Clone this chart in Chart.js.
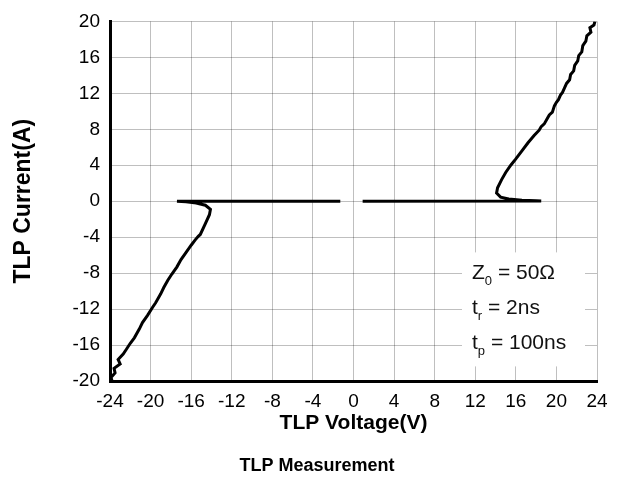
<!DOCTYPE html>
<html>
<head>
<meta charset="utf-8">
<script src="https://cdn.jsdelivr.net/npm/chart.js@4.4.1/dist/chart.umd.min.js"></script>
<style>
  html, body { margin: 0; padding: 0; background: #fff; }
  #wrap { width: 627px; height: 482px; }
</style>
</head>
<body>
<div id="wrap"><canvas id="tlp" width="627" height="482"></canvas></div>
<script>
// data (V, A)
const posVolt = [0.9, 18.5, 18.0, 16.6, 15.3, 14.5, 14.1, 14.2, 14.6, 15.0, 15.5, 16.0, 16.6, 17.2, 17.8, 18.3, 18.5, 18.8, 19.1, 19.3, 19.6, 19.8, 20.0, 20.2, 20.4, 20.6, 20.8, 21.0, 21.3, 21.4, 21.7, 21.8, 22.1, 22.2, 22.5, 22.6, 22.9, 23.0, 23.4, 23.3, 23.7, 23.8];
const posCurr = [0, 0.02, 0.05, 0.1, 0.25, 0.45, 0.9, 1.5, 2.4, 3.2, 4.0, 4.7, 5.6, 6.5, 7.3, 7.9, 8.3, 8.6, 9.2, 9.6, 9.9, 10.6, 11.0, 11.3, 11.8, 12.1, 12.6, 13.1, 13.5, 14.1, 14.5, 15.1, 15.6, 16.2, 16.6, 17.3, 17.8, 18.4, 18.8, 19.3, 19.6, 20.0];

const negVolt = [-1.3, -17.4, -16.5, -15.5, -14.6, -14.1, -14.2, -14.6, -15.1, -15.3, -15.6, -16.0, -16.5, -17.0, -17.4, -17.9, -18.3, -18.7, -19.0, -19.5, -19.8, -20.3, -20.8, -21.1, -21.6, -22.0, -22.4, -22.7, -23.2, -23.0, -23.6, -23.5, -23.9, -23.8];
const negCurr = [0, 0, -0.05, -0.2, -0.45, -0.9, -1.5, -2.5, -3.7, -3.9, -4.3, -4.9, -5.7, -6.5, -7.3, -8.1, -8.8, -9.6, -10.3, -11.3, -11.8, -12.7, -13.5, -14.2, -15.2, -15.8, -16.5, -17.0, -17.6, -18.1, -18.6, -19.1, -19.6, -20.0];

const xRange = [-24, 24];
const yRange = [-20, 20];
const tickStep = 4;

const chartTitle = "TLP Measurement";
const noteLines = [
  ["Z", "0", " = 50\u03A9"],
  ["t", "r", " = 2ns"],
  ["t", "p", " = 100ns"],
];

function toPoints(xs, ys) {
  return xs.map((x, i) => ({ x: x, y: ys[i] }));
}

const FONT = "'Liberation Sans', Arial, sans-serif";

// white box with the pulse settings + title under the chart
const notePlugin = {
  id: "note",
  afterDatasetsDraw(chart) {
    const ctx = chart.ctx;
    const a = chart.chartArea;
    const left = a.left + 352;
    const top = a.top + 231;
    ctx.save();
    ctx.fillStyle = "#fff";
    ctx.fillRect(left, top, 123, 114);
    ctx.fillStyle = "#111";
    ctx.textBaseline = "alphabetic";
    noteLines.forEach((ln, i) => {
      const y = top + 27 + i * 35;
      let x = left + 10;
      ctx.font = "21px " + FONT;
      ctx.fillText(ln[0], x, y);
      x += ctx.measureText(ln[0]).width;
      ctx.font = "13px " + FONT;
      ctx.fillText(ln[1], x, y + 6);
      x += ctx.measureText(ln[1]).width;
      ctx.font = "21px " + FONT;
      ctx.fillText(ln[2], x, y);
    });
    ctx.restore();
  },
  afterDraw(chart) {
    const ctx = chart.ctx;
    ctx.save();
    ctx.fillStyle = "#000";
    ctx.font = "bold 18px " + FONT;
    ctx.textAlign = "center";
    ctx.textBaseline = "middle";
    ctx.fillText(chartTitle, 317, 466);
    ctx.restore();
  },
};

const ctx = document.getElementById("tlp");

new Chart(ctx, {
  type: "scatter",
  data: {
    datasets: [
      {
        label: "positive",
        data: toPoints(posVolt, posCurr),
        showLine: true,
        borderColor: "#000",
        borderWidth: 3,
        pointRadius: 0,
        tension: 0,
      },
      {
        label: "negative",
        data: toPoints(negVolt, negCurr),
        showLine: true,
        borderColor: "#000",
        borderWidth: 3,
        pointRadius: 0,
        tension: 0,
      },
    ],
  },
  options: {
    responsive: false,
    animation: false,
    layout: { padding: { top: 17, right: 30, left: 0, bottom: 27 } },
    plugins: {
      legend: { display: false },
      tooltip: { enabled: false },
      title: { display: false },
    },
    scales: {
      x: {
        type: "linear",
        min: xRange[0],
        max: xRange[1],
        afterFit: (s) => { s.height = 74; },
        ticks: {
          stepSize: tickStep,
          padding: 9,
          color: "#000",
          font: { family: FONT, size: 19 },
          maxRotation: 0,
        },
        grid: { color: "rgba(0,0,0,0.25)", drawTicks: false },
        border: { color: "#000", width: 3 },
        title: {
          display: true,
          text: "TLP Voltage(V)",
          color: "#000",
          font: { family: FONT, size: 21, weight: "bold" },
          padding: { top: 0, bottom: 19 },
        },
      },
      y: {
        type: "linear",
        min: yRange[0],
        max: yRange[1],
        afterFit: (s) => { s.width = 110; },
        ticks: {
          stepSize: tickStep,
          padding: 10,
          color: "#000",
          font: { family: FONT, size: 19 },
        },
        grid: { color: "rgba(0,0,0,0.25)", drawTicks: false },
        border: { color: "#000", width: 3 },
        title: {
          display: true,
          text: "TLP Current(A)",
          color: "#000",
          font: { family: FONT, size: 23, weight: "bold" },
          padding: { top: 10, bottom: 0 },
        },
      },
    },
  },
  plugins: [notePlugin],
});
</script>
</body>
</html>
